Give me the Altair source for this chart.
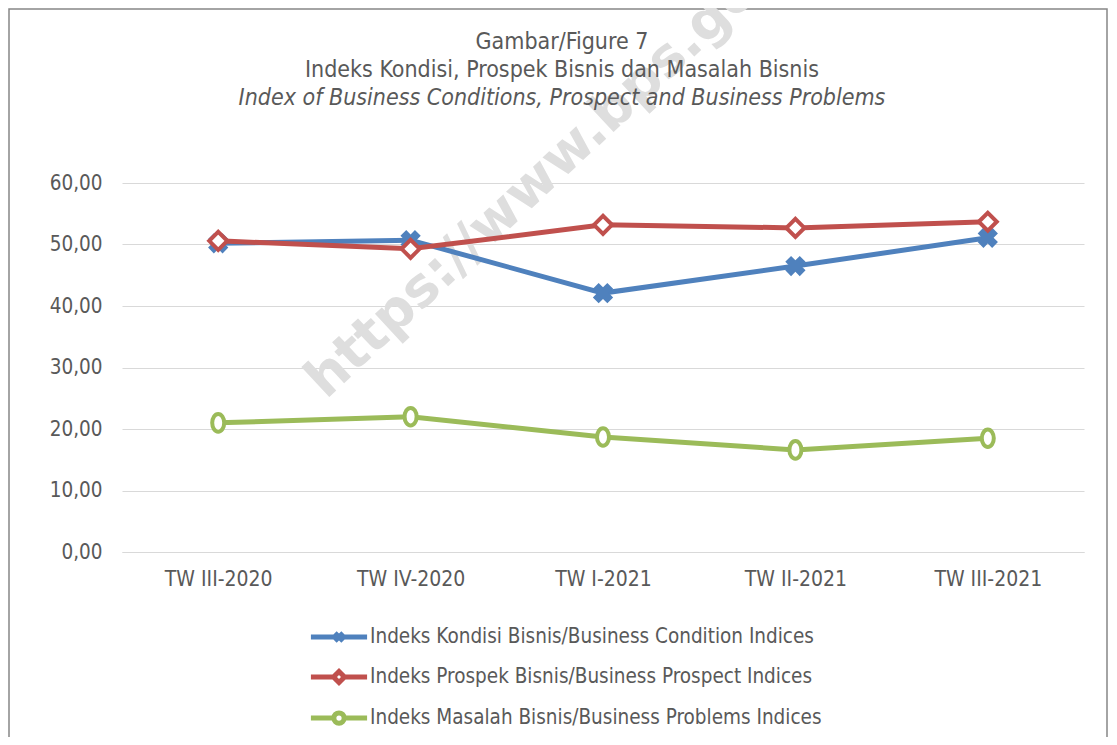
import altair as alt
import pandas as pd

FONT = "DejaVu Sans Condensed"
TXT = "#595959"

periods = ["TW III-2020", "TW IV-2020", "TW I-2021", "TW II-2021", "TW III-2021"]
series_names = [
    "Indeks Kondisi Bisnis/Business Condition Indices",
    "Indeks Prospek Bisnis/Business Prospect Indices",
    "Indeks Masalah Bisnis/Business Problems Indices",
]
kondisi = [50.2, 50.7, 42.1, 46.5, 51.1]
prospek = [50.6, 49.3, 53.2, 52.7, 53.7]
masalah = [21.0, 22.0, 18.7, 16.6, 18.5]
colors = ["#4F81BD", "#C0504D", "#9BBB59"]
y_ticks = [0, 10, 20, 30, 40, 50, 60]
title_lines = [
    "Gambar/Figure  7",
    "Indeks Kondisi, Prospek Bisnis dan Masalah Bisnis",
    "Index of Business Conditions, Prospect and Business Problems",
]

rows = []
for name, vals in zip(series_names, [kondisi, prospek, masalah]):
    for p, v in zip(periods, vals):
        rows.append({"period": p, "series": name, "value": v})
df = pd.DataFrame(rows)
one = pd.DataFrame({"k": [0]})

W, H = 962, 369

x_enc = alt.X("period:N", sort=periods,
              scale=alt.Scale(type="point", padding=0.5),
              axis=alt.Axis(title=None, labelAngle=0, labelFontSize=21, labelFont=FONT,
                            labelColor=TXT, labelPadding=16, ticks=False,
                            domainColor="#d9d9d9", domainWidth=1.2, grid=False))
y_enc = alt.Y("value:Q", scale=alt.Scale(domain=[0, 60], nice=False),
              axis=alt.Axis(title=None, values=y_ticks, labelFontSize=20.5, labelFont=FONT,
                            labelColor=TXT, labelPadding=20, ticks=False, domain=False,
                            gridColor="#d9d9d9", gridWidth=1.2,
                            labelExpr="replace(format(datum.value, '.2f'), '.', ',')"))

frame = alt.Chart(one).mark_rect(fillOpacity=0, stroke="#868686", strokeWidth=1.5).encode(
    x=alt.value(-113), x2=alt.value(W + 23), y=alt.value(-174), y2=alt.value(H + 300))

watermark = alt.Chart(one).mark_text(
    text="https://www.bps.go.id", angle=317, align="left", baseline="alphabetic",
    font="DejaVu Sans", fontWeight="bold", fontSize=54, color="#dedede"
).encode(x=alt.value(204), y=alt.value(217))

title_y = [-134, -106, -78]
title_layers = []
for i, (t, ty) in enumerate(zip(title_lines, title_y)):
    title_layers.append(
        alt.Chart(one).mark_text(
            text=t, align="center", baseline="alphabetic", font=FONT, fontSize=23,
            color=TXT, fontStyle="italic" if i == 2 else "normal"
        ).encode(x=alt.value(440), y=alt.value(ty))
    )

base = alt.Chart(df)
layers = [frame, watermark] + title_layers

marker_specs = [
    dict(shape="cross", angle=45, filled=True, color=colors[0], size=420, opacity=1),
    dict(shape="diamond", filled=True, fill="white", stroke=colors[1], strokeWidth=4, size=324, opacity=1),
    dict(shape="M0,-1.1A0.75,1.1 0 1,1 0,1.1A0.75,1.1 0 1,1 0,-1.1Z", filled=True, fill="white",
         stroke=colors[2], strokeWidth=4, size=256, opacity=1),
]

for name, col, ms in zip(series_names, colors, marker_specs):
    sub = base.transform_filter(alt.datum.series == name)
    layers.append(sub.mark_line(color=col, strokeWidth=5).encode(x=x_enc, y=y_enc))
    layers.append(sub.mark_point(**ms).encode(x=x_enc, y=y_enc))

legend_paths = [
    "M-1.37,0H1.37M-0.2,-0.2L0.2,0.2M-0.2,0.2L0.2,-0.2",
    "M-1.37,0H-0.27M0.27,0H1.37M-0.27,0L0,-0.27L0.27,0L0,0.27Z",
    "M-1.37,0H-0.25M0.25,0H1.37M0.25,0A0.25,0.25 0 1,1 -0.25,0A0.25,0.25 0 1,1 0.25,0Z",
]

leg = alt.Legend(title=None, orient="none", legendX=194, legendY=431, direction="vertical",
                 symbolSize=1681, symbolStrokeWidth=5, symbolOpacity=1, labelFontSize=20.5,
                 labelFont=FONT, labelColor=TXT, labelOffset=8, rowPadding=2, padding=0,
                 labelLimit=700)

legend_layer = base.transform_filter("false").mark_point(filled=False, strokeWidth=5, opacity=1).encode(
    x=x_enc, y=y_enc,
    color=alt.Color("series:N", scale=alt.Scale(domain=series_names, range=colors), legend=leg),
    shape=alt.Shape("series:N", scale=alt.Scale(domain=series_names, range=legend_paths), legend=leg),
)
layers.append(legend_layer)

chart = alt.layer(*layers).properties(
    width=W, height=H,
    padding={"left": 114, "top": 175, "right": 24, "bottom": 185},
    autosize=alt.AutoSizeParams(type="none"),
    background="white",
).configure_view(strokeWidth=0)

chart.save("out.html", embed_options={"renderer": "svg", "actions": False})
